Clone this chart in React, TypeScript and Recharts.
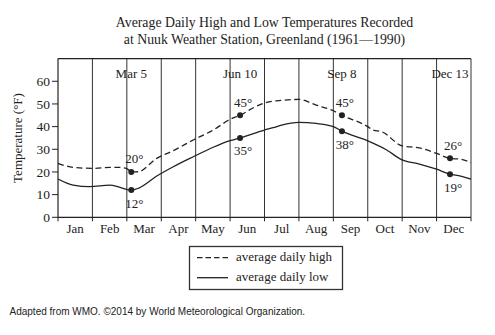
import React from 'react';
import { LineChart, Line, XAxis, YAxis, ReferenceLine, ReferenceDot } from 'recharts';

// ---- data ----
const MONTHS = ['Jan', 'Feb', 'Mar', 'Apr', 'May', 'Jun', 'Jul', 'Aug', 'Sep', 'Oct', 'Nov', 'Dec'];
const MONTH_TICKS = [0, 1, 2, 3, 4, 5, 6, 7, 8, 9, 10, 11, 12];
const Y_TICKS = [0, 10, 20, 30, 40, 50, 60];

// x = month position (0 = Jan 1, 12 = Dec 31), value in °F
const HIGH_X = [0, 0.45, 1.03, 1.5, 1.8, 2.0, 2.13, 2.33, 2.87, 3.35, 3.93, 4.51, 5.0, 5.29, 5.7, 6.0, 6.5, 7.0, 7.5, 8.0, 8.25, 9.0, 9.15, 9.4, 10.0, 10.5, 11.0, 11.39, 11.7, 12.0];
const HIGH_V = [23.8, 22.0, 21.6, 22.0, 22.0, 21.5, 20.0, 20.1, 26.0, 29.4, 34.1, 38.5, 43.2, 45.0, 48.5, 50.4, 51.6, 52.0, 49.5, 47.0, 45.0, 40.0, 38.5, 37.8, 31.5, 30.6, 28.2, 26.0, 25.6, 24.1];

const LOW_X = [0, 0.44, 0.92, 1.5, 1.8, 2.13, 2.35, 2.87, 3.35, 3.93, 4.51, 5.0, 5.29, 6.0, 6.25, 6.5, 7.0, 7.5, 8.0, 8.25, 9.0, 9.55, 10.0, 10.5, 11.0, 11.39, 11.7, 12.0];
const LOW_V = [16.9, 14.2, 13.5, 14.2, 13.2, 12.0, 12.9, 18.2, 22.3, 26.7, 30.9, 33.8, 35.0, 38.5, 39.5, 40.7, 41.9, 41.4, 40.0, 38.0, 33.7, 29.7, 25.3, 23.5, 21.2, 19.0, 18.2, 16.8];

const MARK_X = [2.13, 5.29, 8.25, 11.39];
const MARK_DATES = ['Mar 5', 'Jun 10', 'Sep 8', 'Dec 13'];
const MARK_HIGH = [20, 45, 45, 26];
const MARK_LOW = [12, 35, 38, 19];

const highData = HIGH_X.map((x, i) => ({ x, v: HIGH_V[i] }));
const lowData = LOW_X.map((x, i) => ({ x, v: LOW_V[i] }));

// ---- layout ----
const W = 495;
const H = 335;
const M = { top: 58.6, right: 24, left: 0, bottom: 87.7 };
const YAXIS_W = 58;
const XAXIS_H = 30;
const MONTH_PX = (W - M.left - M.right - YAXIS_W) / 12;
const SERIF = '"Liberation Serif", "DejaVu Serif", serif';
const SANS = '"Liberation Sans", "DejaVu Sans", sans-serif';
const INK = '#222';

const MonthTick = (props: any) => {
  const { x, y, payload } = props;
  const i = Math.round(payload.value);
  if (i >= 12) return <g />;
  return (
    <text x={x + MONTH_PX / 2} y={y + 10} textAnchor="middle" fontFamily={SERIF} fontSize={13} fill={INK}>
      {MONTHS[i]}
    </text>
  );
};

const dotLabel = (text: string, above: boolean) => (props: any) => {
  const vb = props.viewBox || {};
  const cx = vb.x + (vb.width || 0) / 2;
  const cy = vb.y + (vb.height || 0) / 2;
  return (
    <text x={cx + 3} y={above ? cy - 8.5 : cy + 17.5} textAnchor="middle" fontFamily={SERIF} fontSize={13} fill={INK}>
      {text}
    </text>
  );
};

const dateLabel = (text: string) => (props: any) => {
  const vb = props.viewBox || {};
  const cx = vb.x + (vb.width || 0) / 2;
  const cy = vb.y + (vb.height || 0) / 2;
  return (
    <text x={cx} y={cy + 19} textAnchor="middle" fontFamily={SERIF} fontSize={13} fill={INK}>
      {text}
    </text>
  );
};

export default function App() {
  return (
    <div style={{ position: 'absolute', left: 0, top: 0, width: W, height: H, background: '#fff' }}>
      <LineChart width={W} height={H} margin={M}>
        <XAxis
          xAxisId="m"
          dataKey="x"
          type="number"
          domain={[0, 12]}
          ticks={MONTH_TICKS}
          tick={<MonthTick />}
          tickSize={4}
          height={XAXIS_H}
          stroke={INK}
          axisLine={{ stroke: INK, strokeWidth: 1.2 }}
          tickLine={{ stroke: INK }}
          interval={0}
        />
        <YAxis
          type="number"
          domain={[0, 70]}
          ticks={Y_TICKS}
          width={YAXIS_W}
          tickSize={6}
          axisLine={{ stroke: INK, strokeWidth: 1.2 }}
          tickLine={{ stroke: INK }}
          tick={{ fontFamily: SERIF, fontSize: 13.5, fill: INK }}
          interval={0}
        />
        {MONTH_TICKS.slice(1).map((m) => (
          <ReferenceLine key={m} xAxisId="m" x={m} stroke="#333" strokeWidth={1} />
        ))}
        <ReferenceLine xAxisId="m" y={70} stroke={INK} strokeWidth={1.2} />
        <Line
          xAxisId="m"
          data={highData}
          dataKey="v"
          type="monotone"
          stroke={INK}
          strokeWidth={1.3}
          strokeDasharray="6 3.5"
          dot={false}
          isAnimationActive={false}
        />
        <Line
          xAxisId="m"
          data={lowData}
          dataKey="v"
          type="monotone"
          stroke={INK}
          strokeWidth={1.3}
          dot={false}
          isAnimationActive={false}
        />
        {MARK_X.map((x, i) => (
          <ReferenceDot key={'h' + i} xAxisId="m" x={x} y={MARK_HIGH[i]} r={3} fill={INK} stroke="none" label={dotLabel(MARK_HIGH[i] + '°', true)} />
        ))}
        {MARK_X.map((x, i) => (
          <ReferenceDot key={'l' + i} xAxisId="m" x={x} y={MARK_LOW[i]} r={3} fill={INK} stroke="none" label={dotLabel(MARK_LOW[i] + '°', false)} />
        ))}
        {MARK_X.map((x, i) => (
          <ReferenceDot key={'d' + i} xAxisId="m" x={x} y={70} r={0} fill="none" stroke="none" label={dateLabel(MARK_DATES[i])} />
        ))}
      </LineChart>
      <svg width={W} height={H} style={{ position: 'absolute', left: 0, top: 0, pointerEvents: 'none' }}>
        <text x={264.5} y={27} textAnchor="middle" fontFamily={SERIF} fontSize={13.8} fill={INK}>
          Average Daily High and Low Temperatures Recorded
        </text>
        <text x={264.5} y={43.5} textAnchor="middle" fontFamily={SERIF} fontSize={13.8} fill={INK}>
          at Nuuk Weather Station, Greenland (1961—1990)
        </text>
        <text transform="translate(21.5,138) rotate(-90)" textAnchor="middle" fontFamily={SERIF} fontSize={13} fill={INK}>
          Temperature (°F)
        </text>
        <rect x={189.5} y={246.5} width={153} height={43} fill="none" stroke="#333" strokeWidth={1.3} />
        <line x1={197} x2={228} y1={257.7} y2={257.7} stroke={INK} strokeWidth={1.3} strokeDasharray="5.5 3" />
        <line x1={197} x2={228} y1={277.7} y2={277.7} stroke={INK} strokeWidth={1.3} />
        <text x={236} y={261} fontFamily={SERIF} fontSize={13} fill={INK}>average daily high</text>
        <text x={236} y={281} fontFamily={SERIF} fontSize={13} fill={INK}>average daily low</text>
        <text x={9.5} y={314.5} fontFamily={SANS} fontSize={10} fill={INK}>
          Adapted from WMO. ©2014 by World Meteorological Organization.
        </text>
      </svg>
    </div>
  );
}
